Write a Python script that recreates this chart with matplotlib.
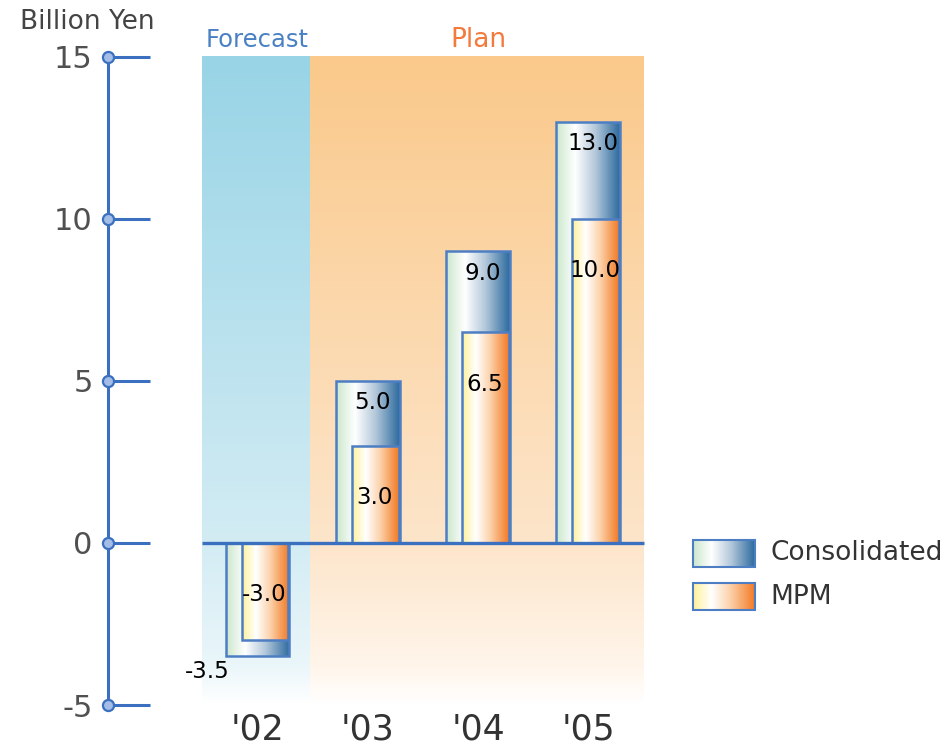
import numpy as np
import matplotlib.pyplot as plt
from matplotlib.colors import LinearSegmentedColormap
from matplotlib.patches import Rectangle

plt.rcParams['axes.unicode_minus'] = False

# Operating income, billion yen
years = ["'02", "'03", "'04", "'05"]
consolidated = [-3.5, 5.0, 9.0, 13.0]
mpm = [-3.0, 3.0, 6.5, 10.0]
yticks = [-5, 0, 5, 10, 15]
n_forecast = 1  # first year is a forecast, the rest are plan

AXIS_BLUE = '#3b6fc0'
EDGE_BLUE = '#4d7ec4'

cons_cmap = LinearSegmentedColormap.from_list(
    'cons', [(0, '#cbe7cc'), (0.3, '#ffffff'), (0.62, '#b2c7da'), (1, '#2c6a9e')])
mpm_cmap = LinearSegmentedColormap.from_list(
    'mpm', [(0, '#fff19a'), (0.3, '#ffffff'), (0.6, '#fcd2ab'), (1, '#f27a25')])
fc_cmap = LinearSegmentedColormap.from_list(
    'fc', [(0, '#ffffff'), (0.06, '#eaf6fa'), (0.25, '#d3ecf4'), (1, '#98d4e6')])
plan_cmap = LinearSegmentedColormap.from_list(
    'plan', [(0, '#ffffff'), (0.06, '#fff5ea'), (0.25, '#fde5ca'), (1, '#fac98b')])

fig = plt.figure(figsize=(9.51, 7.45), dpi=100)
ax = fig.add_axes([100 / 951, 27 / 745, 560 / 951, 678 / 745])
ax.set_xlim(-1.428, 3.649)
ax.set_ylim(-5.40, 15.52)

x = np.arange(len(years))
lo, hi = yticks[0], yticks[-1]
grad_v = np.linspace(0, 1, 256).reshape(-1, 1)
grad_h = np.linspace(0, 1, 256).reshape(1, -1)

# shaded backgrounds for the forecast and plan periods
ax.imshow(grad_v, cmap=fc_cmap, origin='lower', aspect='auto', zorder=0,
          extent=(x[0] - 0.5, x[n_forecast - 1] + 0.48, lo, hi))
ax.imshow(grad_v, cmap=plan_cmap, origin='lower', aspect='auto', zorder=0,
          extent=(x[n_forecast] - 0.52, x[-1] + 0.5, lo, hi))
ax.text(np.mean(x[:n_forecast]), 15.52, 'Forecast', ha='center', va='center',
        fontsize=17.5, color='#4a80c4')
ax.text(np.mean(x[n_forecast:]), 15.52, 'Plan', ha='center', va='center',
        fontsize=19, color='#f47a3c')


def gradient_bars(left, heights, width, cmap):
    bars = ax.bar(left, heights, width=width, align='edge', facecolor='none',
                  edgecolor=EDGE_BLUE, linewidth=1.8, zorder=3)
    for b in bars:
        x0, y0 = b.get_x(), b.get_y()
        x1, y1 = x0 + b.get_width(), y0 + b.get_height()
        im = ax.imshow(grad_h, cmap=cmap, aspect='auto', zorder=2,
                       extent=(x0, x1, min(y0, y1), max(y0, y1)))
        im.set_clip_path(b)
    return bars


gradient_bars(x - 0.29, consolidated, 0.58, cons_cmap)
gradient_bars(x - 0.145, mpm, 0.425, mpm_cmap)

# zero line across the shaded area
ax.plot([x[0] - 0.5, x[-1] + 0.5], [0, 0], color=AXIS_BLUE, lw=2.4, zorder=5,
        solid_capstyle='butt')

# value labels
for xi, c, m in zip(x, consolidated, mpm):
    if c >= 0:
        ax.text(xi + 0.04, c - 0.68, f'{c:.1f}', ha='center', va='center',
                fontsize=16.5, color='black', zorder=6)
    else:
        ax.text(xi - 0.25, c - 0.45, f'{c:.1f}', ha='right', va='center',
                fontsize=16.5, color='black', zorder=6)
    ax.text(xi + 0.06, max(m, 0) - 1.6, f'{m:.1f}', ha='center', va='center',
            fontsize=16.5, color='black', zorder=6)

# y axis with round tick knobs
axis_x = -1.355
for s in ['top', 'right', 'bottom']:
    ax.spines[s].set_visible(False)
ax.spines['left'].set_position(('data', axis_x))
ax.spines['left'].set_bounds(lo, hi)
ax.spines['left'].set_color(AXIS_BLUE)
ax.spines['left'].set_linewidth(2.2)
ax.set_yticks(yticks)
ax.tick_params(axis='y', direction='in', length=30, width=2.2, color=AXIS_BLUE,
               labelsize=22, labelcolor='#505050', pad=11)
ax.plot(np.full(len(yticks), axis_x), yticks, 'o', ms=8, mfc='#a3bde6',
        mec=AXIS_BLUE, mew=1.6, clip_on=False, zorder=6)

ax.set_xticks(x, years)
ax.tick_params(axis='x', length=0, labelsize=25, labelcolor='#333333', pad=-4)

fig.text(87 / 951, 1 - 22 / 745, 'Billion Yen', ha='center', va='center',
         fontsize=19, color='#444444')

# legend with gradient swatches
lax = fig.add_axes([685 / 951, 125 / 745, 266 / 951, 90 / 745])
lax.axis('off')
for (y0, y1), cmap, label in [((540, 567), cons_cmap, 'Consolidated'),
                              ((583, 610), mpm_cmap, 'MPM')]:
    lax.imshow(grad_h, cmap=cmap, aspect='auto', extent=(693, 755, y1, y0))
    lax.add_patch(Rectangle((693, y0), 62, y1 - y0, fill=False,
                            edgecolor=EDGE_BLUE, lw=1.5))
    lax.text(770, (y0 + y1) / 2, label, ha='left', va='center', fontsize=19,
             color='#333333')
lax.set_xlim(685, 951)
lax.set_ylim(620, 530)

fig.savefig('out.png', dpi=100)
